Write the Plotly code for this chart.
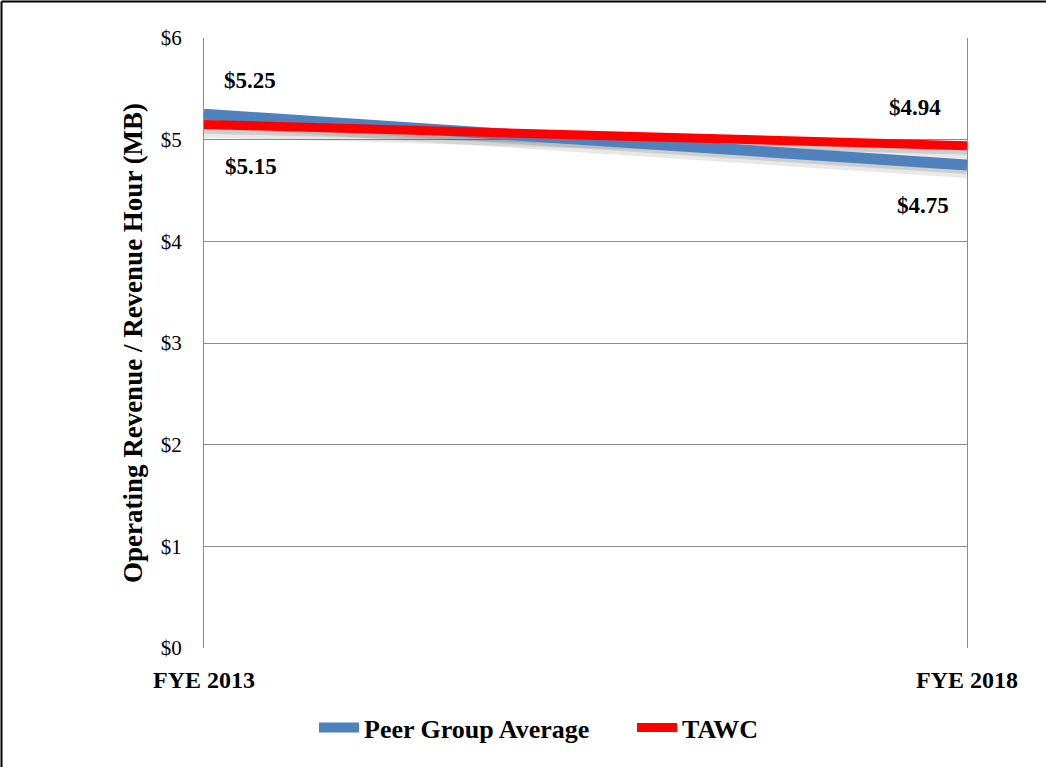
import plotly.graph_objects as go

# Operating revenue per revenue hour, two fiscal years
years = ["FYE 2013", "FYE 2018"]
peer_avg = [5.25, 4.75]
tawc = [5.15, 4.94]
y_ticks = [0, 1, 2, 3, 4, 5, 6]
y_tick_text = ["$0", "$1", "$2", "$3", "$4", "$5", "$6"]

BLUE = "#4F81BD"
RED = "#FF0000"
GRID = "#8C8C8C"
SERIF = "Liberation Serif"

W, H = 1046, 767
L, R, T, B = 204, 79, 38, 119
plot_w = W - L - R
plot_h = H - T - B

xs = [0, 1]

fig = go.Figure()

# soft drop shadows under each line, drawn on slightly offset hidden axes
for axis, shift_w, op in [("y", 16, 0.13), ("y2", 12, 0.18)]:
    for vals in (peer_avg, tawc):
        fig.add_trace(go.Scatter(
            x=xs, y=vals, mode="lines", yaxis=axis,
            line=dict(color="#555555", width=shift_w),
            opacity=op, showlegend=False, hoverinfo="skip",
        ))

# the series themselves sit on the topmost (visible) axis, above the shadows
fig.add_trace(go.Scatter(
    x=xs, y=peer_avg, mode="lines", name="<b>Peer Group Average</b>",
    line=dict(color=BLUE, width=11), legend="legend", yaxis="y3",
))
fig.add_trace(go.Scatter(
    x=xs, y=tawc, mode="lines", name="<b>TAWC</b>",
    line=dict(color=RED, width=9), legend="legend2", yaxis="y3",
))

# value labels
label_font = dict(family=SERIF, size=23, color="black")
labels = [
    (0, peer_avg[0], 46, 34),
    (0, tawc[0], 47, -42),
    (1, tawc[1], -52, 38),
    (1, peer_avg[1], -44, -40),
]
for x, v, xs_, ys_ in labels:
    fig.add_annotation(
        x=x, y=v, xref="x", yref="y3", text="<b>$%.2f</b>" % v,
        showarrow=False, xshift=xs_, yshift=ys_, font=label_font,
    )

# outer frame: left and top edges
px_x = lambda p: (p - L) / plot_w
px_y = lambda p: 1 - (p - T) / plot_h
fig.add_shape(type="line", xref="paper", yref="paper",
              x0=px_x(1.5), x1=px_x(1.5), y0=px_y(H + 40), y1=px_y(1.5),
              line=dict(color="black", width=2))
fig.add_shape(type="line", xref="paper", yref="paper",
              x0=px_x(1.5), x1=px_x(W + 10), y0=px_y(1.5), y1=px_y(1.5),
              line=dict(color="black", width=2))

legend_style = dict(
    orientation="h", xanchor="left", y=px_y(704), yanchor="top",
    font=dict(family=SERIF, size=26), itemwidth=40, bgcolor="rgba(0,0,0,0)",
)

d = 5 * 6 / plot_h
d2 = 3 * 6 / plot_h
fig.update_layout(
    width=W, height=H,
    margin=dict(l=L, r=R, t=T, b=B, autoexpand=False),
    paper_bgcolor="white", plot_bgcolor="white",
    font=dict(family=SERIF, color="black"),
    xaxis=dict(
        range=[0, 1], tickvals=xs, ticktext=["<b>%s</b>" % y for y in years],
        tickfont=dict(family=SERIF, size=24), showgrid=False, zeroline=False,
        showline=False, ticks="", ticklen=0, ticklabelstandoff=15,
    ),
    yaxis=dict(range=[d, 6 + d], visible=False),
    yaxis2=dict(range=[d2, 6 + d2], overlaying="y", visible=False),
    yaxis3=dict(
        overlaying="y", side="left",
        range=[0, 6], tickvals=y_ticks, ticktext=y_tick_text,
        tickfont=dict(family=SERIF, size=21), showgrid=True, gridcolor=GRID,
        gridwidth=1.3, zeroline=False, showline=True, linecolor=GRID,
        linewidth=1.3, mirror=True, ticks="", ticklabelstandoff=17,
        title=dict(text="<b>Operating Revenue / Revenue Hour (MB)</b>",
                   font=dict(family=SERIF, size=27), standoff=10),
    ),
    legend=dict(x=px_x(314), **legend_style),
    legend2=dict(x=px_x(632), **legend_style),
    showlegend=True,
)

fig.write_html("out.html")
